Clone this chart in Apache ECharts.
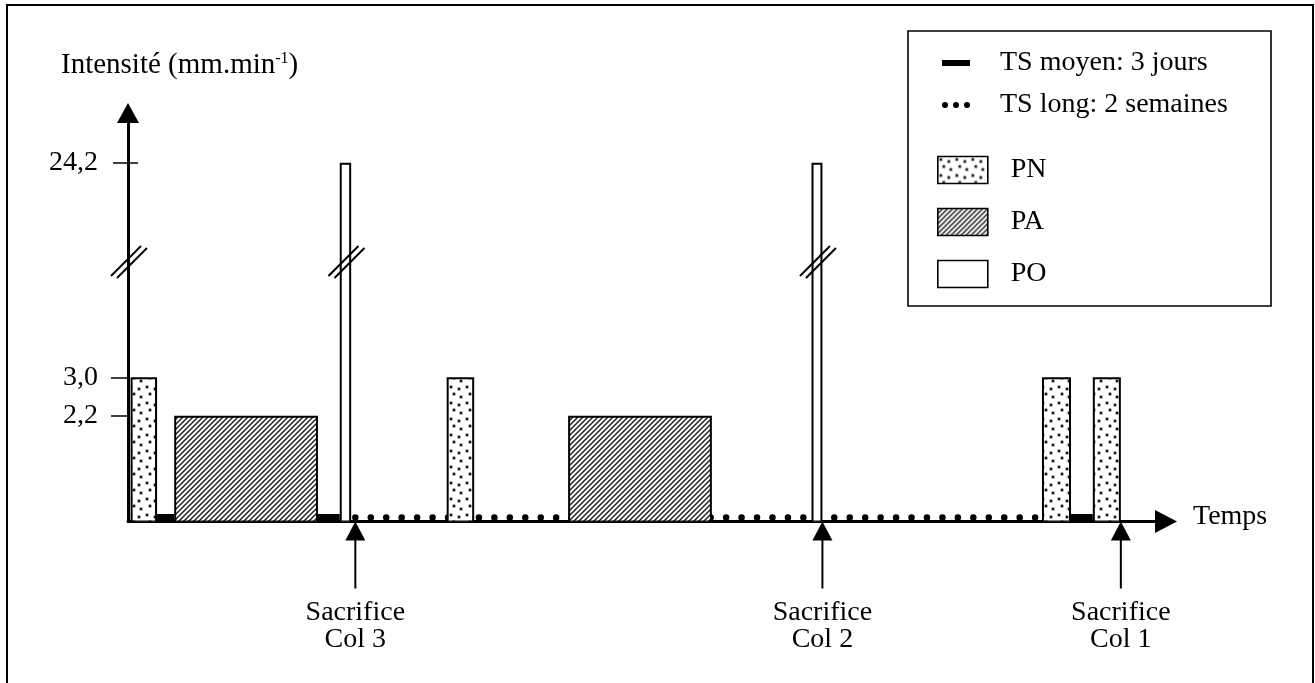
<!DOCTYPE html>
<html><head><meta charset="utf-8">
<script src="https://cdn.jsdelivr.net/npm/echarts@6/dist/echarts.min.js"></script>
<style>html,body{margin:0;padding:0;background:#fff}#c{width:1315px;height:683px}</style>
</head><body><div id="c"></div>
<script>
// ---------------- data (read from the schematic) ----------------
const timeMax = 100;                       // arbitrary time units along "Temps"
const yTicksLow = [2.2, 3.0];              // ticks below the axis break
const yTicksHigh = [24.2];                 // tick above the axis break
const lowMax = 5.4;                        // value where the axis is broken
const highMin = 22, highMax = 25.3;        // range shown above the break
// [start, end, intensity]
const pnBars = [[0.25, 2.8, 3.0], [30.7, 33.35, 3.0], [88.05, 90.85, 3.0], [92.95, 95.65, 3.0]];
const paBars = [[4.45, 18.3, 2.2], [42.4, 56.25, 2.2]];
const poBars = [[20.4, 21.5, 24.2], [65.85, 66.9, 24.2]];
// [start, end]
const tsMoyen = [[2.8, 4.45], [18.3, 20.4], [90.85, 92.95]];
const tsLong = [[21.9, 87.5]];
const sacrificeTimes = [21.9, 66.9, 95.65];
const sacrificeLabels = ['Sacrifice\nCol 3', 'Sacrifice\nCol 2', 'Sacrifice\nCol 1'];
const lineNames = ['TS moyen: 3 jours', 'TS long: 2 semaines'];
const barNames = ['PN', 'PA', 'PO'];

// ---------------- styles ----------------
const FONT = '"Liberation Serif", "Times New Roman", serif';
function makeDots() {
  const c = document.createElement('canvas'); c.width = 16; c.height = 16;
  const g = c.getContext('2d');
  g.fillStyle = '#fff'; g.fillRect(0, 0, 16, 16);
  [[3, 3], [11, 5], [6, 10], [13, 13]].forEach(function (p) {
    g.fillStyle = 'rgba(0,0,0,0.25)'; g.beginPath(); g.arc(p[0], p[1], 2.2, 0, 7); g.fill();
    g.fillStyle = '#111'; g.beginPath(); g.arc(p[0], p[1], 1.2, 0, 7); g.fill();
  });
  return c;
}
function makeHatch() {
  const s = 5, c = document.createElement('canvas'); c.width = s; c.height = s;
  const g = c.getContext('2d');
  g.fillStyle = '#fff'; g.fillRect(0, 0, s, s);
  g.strokeStyle = '#222'; g.lineWidth = 1.5; g.beginPath();
  g.moveTo(-1, s + 1); g.lineTo(s + 1, -1);
  g.moveTo(-1, 1); g.lineTo(1, -1);
  g.moveTo(s - 1, s + 1); g.lineTo(s + 1, s - 1);
  g.stroke();
  return c;
}
const dotFill = { image: makeDots(), repeat: 'repeat' };
const hatchFill = { image: makeHatch(), repeat: 'repeat' };
const fills = { PN: dotFill, PA: hatchFill, PO: '#fff' };

function barRenderer(fill) {
  return function (params, api) {
    const t0 = api.value(0), t1 = api.value(1), v = api.value(2);
    const a = api.coord([t0, v]), b = api.coord([t1, 0]);
    return { type: 'rect',
      shape: { x: a[0] + 1, y: a[1] + 1, width: b[0] - a[0] - 2, height: b[1] - a[1] - 1 },
      style: { fill: fill, stroke: '#000', lineWidth: 2 } };
  };
}
function renderTsMoyen(params, api) {
  const a = api.coord([api.value(0), 0]), b = api.coord([api.value(1), 0]);
  return { type: 'rect', shape: { x: a[0], y: a[1] - 7.5, width: b[0] - a[0], height: 6 }, style: { fill: '#000' } };
}
function renderTsLong(params, api) {
  const a = api.coord([api.value(0), 0]), b = api.coord([api.value(1), 0]);
  return { type: 'line', shape: { x1: a[0], y1: a[1] - 4, x2: b[0], y2: b[1] - 4 },
    style: { stroke: '#000', lineWidth: 6.5, lineDash: [0, 15.45], lineCap: 'round', fill: null } };
}
function renderBreak(params, api) {
  const p = api.coord([api.value(0), lowMax]);
  const cx = p[0] + 1, cy = p[1];
  const st = { stroke: '#000', lineWidth: 2 };
  return { type: 'group', children: [
    { type: 'line', shape: { x1: cx - 18, y1: cy + 14, x2: cx + 12, y2: cy - 16 }, style: st },
    { type: 'line', shape: { x1: cx - 12, y1: cy + 16, x2: cx + 18, y2: cy - 14 }, style: st }
  ] };
}
function renderSacrifice(params, api) {
  const p = api.coord([api.value(0), 0]);
  const x = p[0], y = p[1];
  return { type: 'group', children: [
    { type: 'polygon', shape: { points: [[x, y], [x - 10, y + 19], [x + 10, y + 19]] }, style: { fill: '#000' } },
    { type: 'line', shape: { x1: x, y1: y + 18, x2: x, y2: y + 67 }, style: { stroke: '#000', lineWidth: 2 } },
    { type: 'text', x: x, y: y + 105,
      style: { text: sacrificeLabels[params.dataIndex], font: '28px ' + FONT, fill: '#000',
        align: 'center', textAlign: 'center', verticalAlign: 'middle', textVerticalAlign: 'middle', lineHeight: 27 } }
  ] };
}
const breakAt = [0].concat(poBars.map(function (b) { return (b[0] + b[1]) / 2; }));
const fmt = function (v) { return v.toFixed(1).replace('.', ','); };
const dotsIcon = 'path://M3,0A3,3,0,1,1,3,6A3,3,0,1,1,3,0ZM14,0A3,3,0,1,1,14,6A3,3,0,1,1,14,0ZM25,0A3,3,0,1,1,25,6A3,3,0,1,1,25,0Z';
const labelStyle = { fontFamily: FONT, fontSize: 28, color: '#000' };

const chart = echarts.init(document.getElementById('c'), null, { renderer: 'canvas' });
chart.setOption({
  animation: false,
  backgroundColor: '#fff',
  title: { text: 'Intensité (mm.min{s|-1})', left: 61, top: 51, padding: 0,
    textStyle: { fontFamily: FONT, fontSize: 29, fontWeight: 'normal', color: '#000',
      rich: { s: { fontFamily: FONT, fontSize: 16, color: '#000', verticalAlign: 'top' } } } },
  graphic: [
    { type: 'rect', shape: { x: 7, y: 5, width: 1306, height: 700 }, style: { fill: 'none', stroke: '#000', lineWidth: 2 }, z: 0 },
    { type: 'rect', shape: { x: 908, y: 31, width: 363, height: 275 }, style: { fill: 'none', stroke: '#000', lineWidth: 1.6 }, z: 0 }
  ],
  legend: [
    { orient: 'vertical', left: 942, top: 48, padding: 0, itemWidth: 28, itemHeight: 6, itemGap: 12, selectedMode: false,
      textStyle: { fontFamily: FONT, fontSize: 28, color: '#000', lineHeight: 30, padding: [0, 0, 0, 25] },
      data: [ { name: lineNames[0], icon: 'rect', itemStyle: { color: '#000', borderWidth: 0 } },
              { name: lineNames[1], icon: dotsIcon, itemStyle: { color: '#000', borderWidth: 0 } } ] },
    { orient: 'vertical', left: 937, top: 155, padding: 0, itemWidth: 50, itemHeight: 27, itemGap: 22, selectedMode: false,
      textStyle: { fontFamily: FONT, fontSize: 28, color: '#000', lineHeight: 30, padding: [0, 0, 0, 18] },
      data: barNames.map(function (n) { return { name: n, icon: 'rect', itemStyle: { color: fills[n], borderColor: '#000', borderWidth: 1.6 } }; }) }
  ],
  grid: [
    { left: 128, right: 149, top: 262, bottom: 161.5, containLabel: false, outerBoundsMode: 'none' },
    { left: 128, right: 149, top: 113, height: 149, containLabel: false, outerBoundsMode: 'none' }
  ],
  xAxis: [
    { gridIndex: 0, type: 'value', min: 0, max: timeMax,
      axisLine: { show: true, onZero: false, symbol: ['none', 'triangle'], symbolSize: [23, 22], lineStyle: { color: '#000', width: 3 } },
      axisTick: { show: false }, axisLabel: { show: false }, splitLine: { show: false },
      name: 'Temps', nameLocation: 'end', nameGap: 27,
      nameTextStyle: { fontFamily: FONT, fontSize: 28, color: '#000', align: 'left', verticalAlign: 'bottom', lineHeight: 10 } },
    { gridIndex: 1, type: 'value', min: 0, max: timeMax, show: false }
  ],
  yAxis: [
    { gridIndex: 0, type: 'value', position: 'left', min: 0, max: lowMax,
      axisLine: { show: true, onZero: false, lineStyle: { color: '#000', width: 3 } },
      axisTick: { show: true, customValues: yTicksLow, length: 17, lineStyle: { color: '#000', width: 1.5 } },
      axisLabel: Object.assign({ show: true, customValues: yTicksLow, formatter: fmt, margin: 30 }, labelStyle),
      splitLine: { show: false } },
    { gridIndex: 1, type: 'value', position: 'left', min: highMin, max: highMax,
      axisLine: { show: true, onZero: false, symbol: ['none', 'triangle'], symbolSize: [22, 20], lineStyle: { color: '#000', width: 3 } },
      axisTick: { show: true, customValues: yTicksHigh, length: 15, lineStyle: { color: '#000', width: 1.5 } },
      axisLabel: Object.assign({ show: true, customValues: yTicksHigh, formatter: fmt, margin: 30 }, labelStyle),
      splitLine: { show: false } },
    { gridIndex: 1, type: 'value', position: 'left', min: highMin, max: highMax,
      axisLine: { show: false },
      axisTick: { show: true, inside: true, customValues: yTicksHigh, length: 10, lineStyle: { color: '#000', width: 1.5 } },
      axisLabel: { show: false }, splitLine: { show: false } }
  ],
  series: [
    { name: lineNames[1], type: 'custom', xAxisIndex: 0, yAxisIndex: 0, z: 2, data: tsLong, renderItem: renderTsLong,
      itemStyle: { color: '#000' }, silent: true },
    { name: 'PN', type: 'custom', xAxisIndex: 0, yAxisIndex: 0, z: 3, clip: true, data: pnBars, renderItem: barRenderer(dotFill),
      itemStyle: { color: dotFill, borderColor: '#000', borderWidth: 2 }, silent: true },
    { name: 'PA', type: 'custom', xAxisIndex: 0, yAxisIndex: 0, z: 3, clip: true, data: paBars, renderItem: barRenderer(hatchFill),
      itemStyle: { color: hatchFill, borderColor: '#000', borderWidth: 2 }, silent: true },
    { name: 'PO', type: 'custom', xAxisIndex: 0, yAxisIndex: 0, z: 3, clip: true, data: poBars, renderItem: barRenderer('#fff'),
      itemStyle: { color: '#fff', borderColor: '#000', borderWidth: 2 }, silent: true },
    { name: 'PO', type: 'custom', xAxisIndex: 1, yAxisIndex: 1, z: 3, clip: true, data: poBars, renderItem: barRenderer('#fff'),
      itemStyle: { color: '#fff', borderColor: '#000', borderWidth: 2 }, silent: true },
    { name: lineNames[0], type: 'custom', xAxisIndex: 0, yAxisIndex: 0, z: 4, data: tsMoyen, renderItem: renderTsMoyen,
      itemStyle: { color: '#000' }, silent: true },
    { name: 'breaks', type: 'custom', xAxisIndex: 0, yAxisIndex: 0, z: 6, clip: false,
      data: breakAt.map(function (t) { return [t]; }), renderItem: renderBreak, silent: true },
    { name: 'sacrifice', type: 'custom', xAxisIndex: 0, yAxisIndex: 0, z: 6, clip: false,
      data: sacrificeTimes.map(function (t) { return [t]; }), renderItem: renderSacrifice, silent: true }
  ]
});
</script></body></html>
